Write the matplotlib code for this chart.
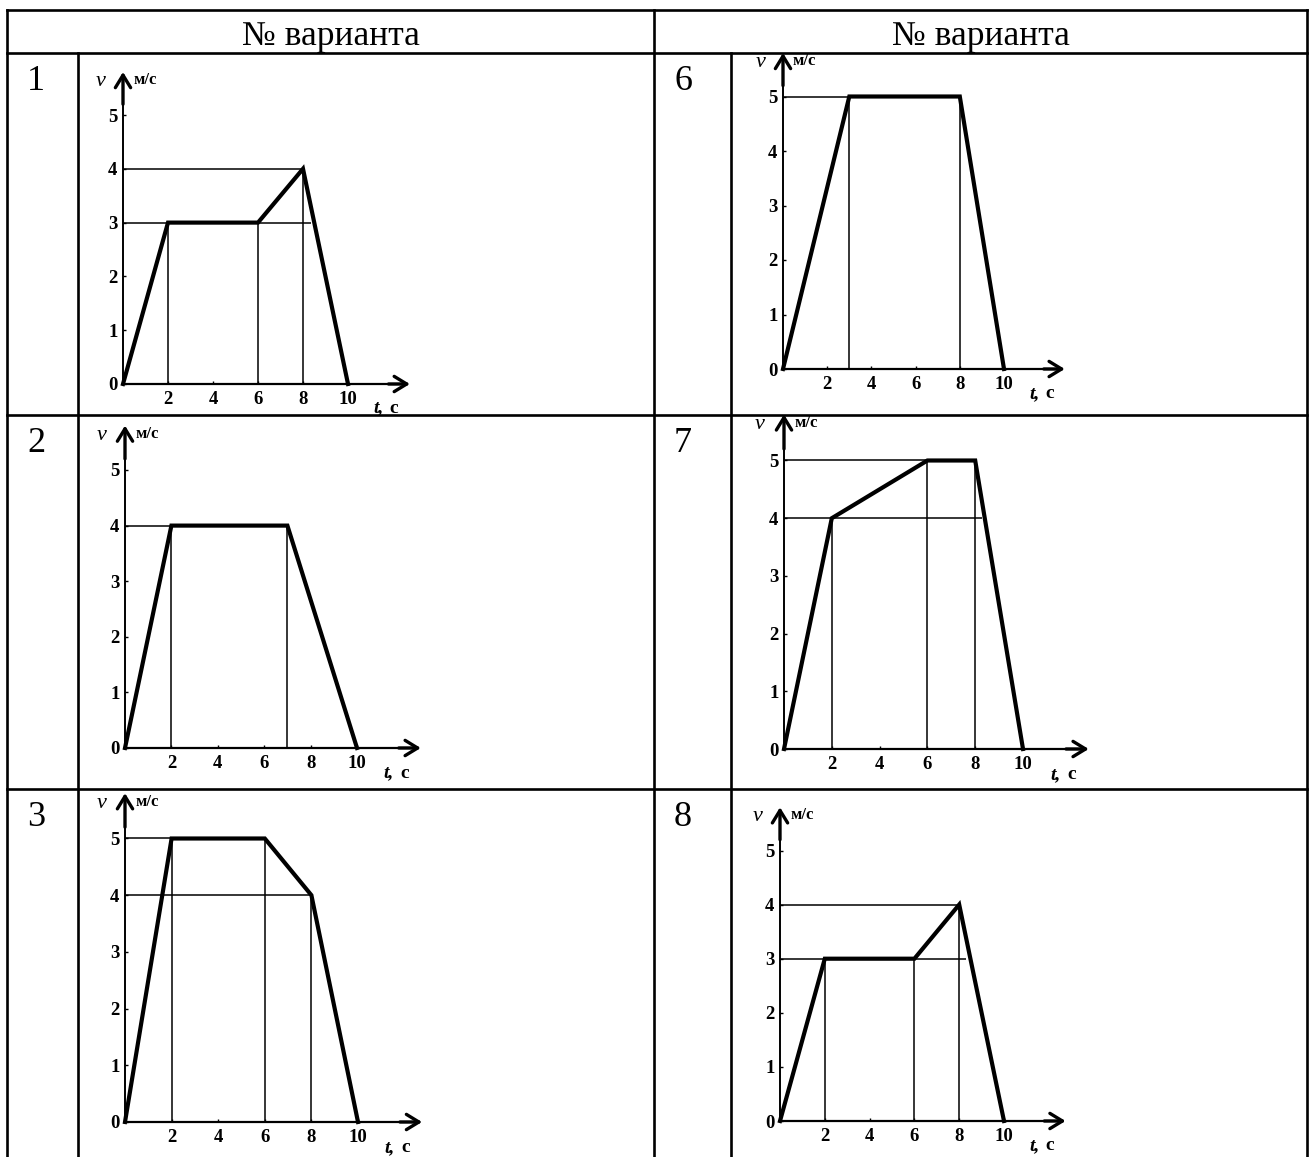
import matplotlib
matplotlib.use("Agg")
import matplotlib.pyplot as plt

W, H = 1309, 1157
SERIF = ['Liberation Serif', 'DejaVu Serif']

header = "№ варианта"
t_ticks = [2, 4, 6, 8, 10]
v_ticks = [0, 1, 2, 3, 4, 5]

# v(t) vertices for every variant
t1 = [0, 2, 6, 8, 10]
v1 = [0, 3, 3, 4, 0]
t2 = [0, 2, 7, 10]
v2 = [0, 4, 4, 0]
t3 = [0, 2, 6, 8, 10]
v3 = [0, 5, 5, 4, 0]
t6 = [0, 3, 8, 10]
v6 = [0, 5, 5, 0]
t7 = [0, 2, 6, 8, 10]
v7 = [0, 4, 5, 5, 0]
t8 = [0, 2, 6, 8, 10]
v8 = [0, 3, 3, 4, 0]

# thin helper lines: drops (t, v_top) and levels (v, t_end)
drops1 = [(2, 3), (6, 3), (8, 4)]
levels1 = [(4, 8), (3, 8.35)]
drops2 = [(2, 4), (7, 4)]
levels2 = [(4, 2)]
drops3 = [(2, 5), (6, 5), (8, 4)]
levels3 = [(5, 2), (4, 8)]
drops6 = [(3, 5), (8, 5)]
levels6 = [(5, 3)]
drops7 = [(2, 4), (6, 5), (8, 5)]
levels7 = [(5, 8), (4, 8.3)]
drops8 = [(2, 3), (6, 3), (8, 4)]
levels8 = [(4, 8), (3, 8.3)]

graphs = {
    1: (t1, v1, drops1, levels1),
    2: (t2, v2, drops2, levels2),
    3: (t3, v3, drops3, levels3),
    6: (t6, v6, drops6, levels6),
    7: (t7, v7, drops7, levels7),
    8: (t8, v8, drops8, levels8),
}

# table grid (pixels)
x_left, x_mid, x_right = 7, 654, 1307
x_num = [78, 731]
y_top, y_head = 10, 53
row_tops = [53, 415, 789]
cells = {1: (0, 0), 2: (1, 0), 3: (2, 0), 6: (0, 1), 7: (1, 1), 8: (2, 1)}

# origin x, origin y, px per second, px per m/s
frames = {
    1: (123, 384, 22.5, 53.8),
    2: (125, 748, 23.2, 55.6),
    3: (125, 1122, 23.3, 56.7),
    6: (783, 369, 22.1, 54.5),
    7: (784, 749, 23.9, 57.7),
    8: (780, 1121, 22.4, 54.1),
}

fig = plt.figure(figsize=(W / 100, H / 100), dpi=100)
bg = fig.add_axes([0, 0, 1, 1])
bg.set_xlim(0, W)
bg.set_ylim(H, 0)
bg.axis('off')

lw_tab = 1.9
for y in [y_top, y_head] + row_tops[1:]:
    bg.plot([x_left, x_right], [y, y], color='k', lw=lw_tab, solid_capstyle='projecting')
for x in (x_left, x_mid, x_right):
    bg.plot([x, x], [y_top, H], color='k', lw=lw_tab)
for x in x_num:
    bg.plot([x, x], [y_head, H], color='k', lw=lw_tab)

for cx in ((x_left + x_mid) / 2, (x_mid + x_right) / 2):
    bg.text(cx, 45, header, ha='center', va='baseline', fontsize=25.5, family=SERIF)

col_left = [x_left, x_mid]
for n, (r, c) in cells.items():
    bg.text(col_left[c] + 20, row_tops[r] + 37, str(n), ha='left', va='baseline',
            fontsize=26, family=SERIF)

xmin, xmax, ymin, ymax = -2.0, 14.0, -1.2, 6.3


def draw_graph(n):
    t, v, drops, levels = graphs[n]
    ox, oy, ux, uy = frames[n]
    left = (ox + xmin * ux) / W
    bottom = 1 - (oy - ymin * uy) / H
    width = (xmax - xmin) * ux / W
    height = (ymax - ymin) * uy / H
    ax = fig.add_axes([left, bottom, width, height])
    ax.patch.set_alpha(0)
    ax.set_xlim(xmin, xmax)
    ax.set_ylim(ymin, ymax)

    for tt, vv in drops:
        ax.vlines(tt, 0, vv, color='k', lw=1.1)
    for vv, tt in levels:
        ax.hlines(vv, 0, tt, color='k', lw=1.1)
    ax.plot(t, v, color='k', lw=3.0, solid_joinstyle='miter')

    for s in ('top', 'right'):
        ax.spines[s].set_visible(False)
    ax.spines['left'].set_position(('data', 0))
    ax.spines['bottom'].set_position(('data', 0))
    ax.spines['left'].set_bounds(0, 5.7)
    ax.spines['bottom'].set_bounds(0, 12.6)
    ax.spines['left'].set_linewidth(1.4)
    ax.spines['bottom'].set_linewidth(1.6)

    head = dict(arrowstyle='->,head_length=0.9,head_width=0.55', lw=2.4, color='k',
                shrinkA=0, shrinkB=0)
    ax.annotate('', xy=(12.75, 0), xytext=(11.8, 0), arrowprops=head)
    ax.annotate('', xy=(0, 5.8), xytext=(0, 5.2), arrowprops=head)

    ax.set_xticks(t_ticks)
    ax.set_yticks(v_ticks)
    ax.tick_params(axis='both', direction='in', length=2.5, width=1.0, labelsize=13.5)
    ax.tick_params(axis='x', pad=5)
    ax.tick_params(axis='y', pad=4)
    for lbl in ax.get_xticklabels() + ax.get_yticklabels():
        lbl.set_fontweight('bold')
        lbl.set_family(SERIF)

    ax.text(-1.0, 5.62, 'v', ha='center', va='center', fontsize=16, style='italic', family=SERIF)
    ax.text(0.45, 5.65, 'м/с', ha='left', va='center', fontsize=12, fontweight='bold', family=SERIF)
    ax.text(11.15, -0.45, 't,', ha='left', va='center', fontsize=14, style='italic',
            fontweight='bold', family=SERIF)
    ax.text(11.85, -0.45, 'c', ha='left', va='center', fontsize=14, fontweight='bold', family=SERIF)


for n in graphs:
    draw_graph(n)

fig.savefig('out.png', dpi=100)
